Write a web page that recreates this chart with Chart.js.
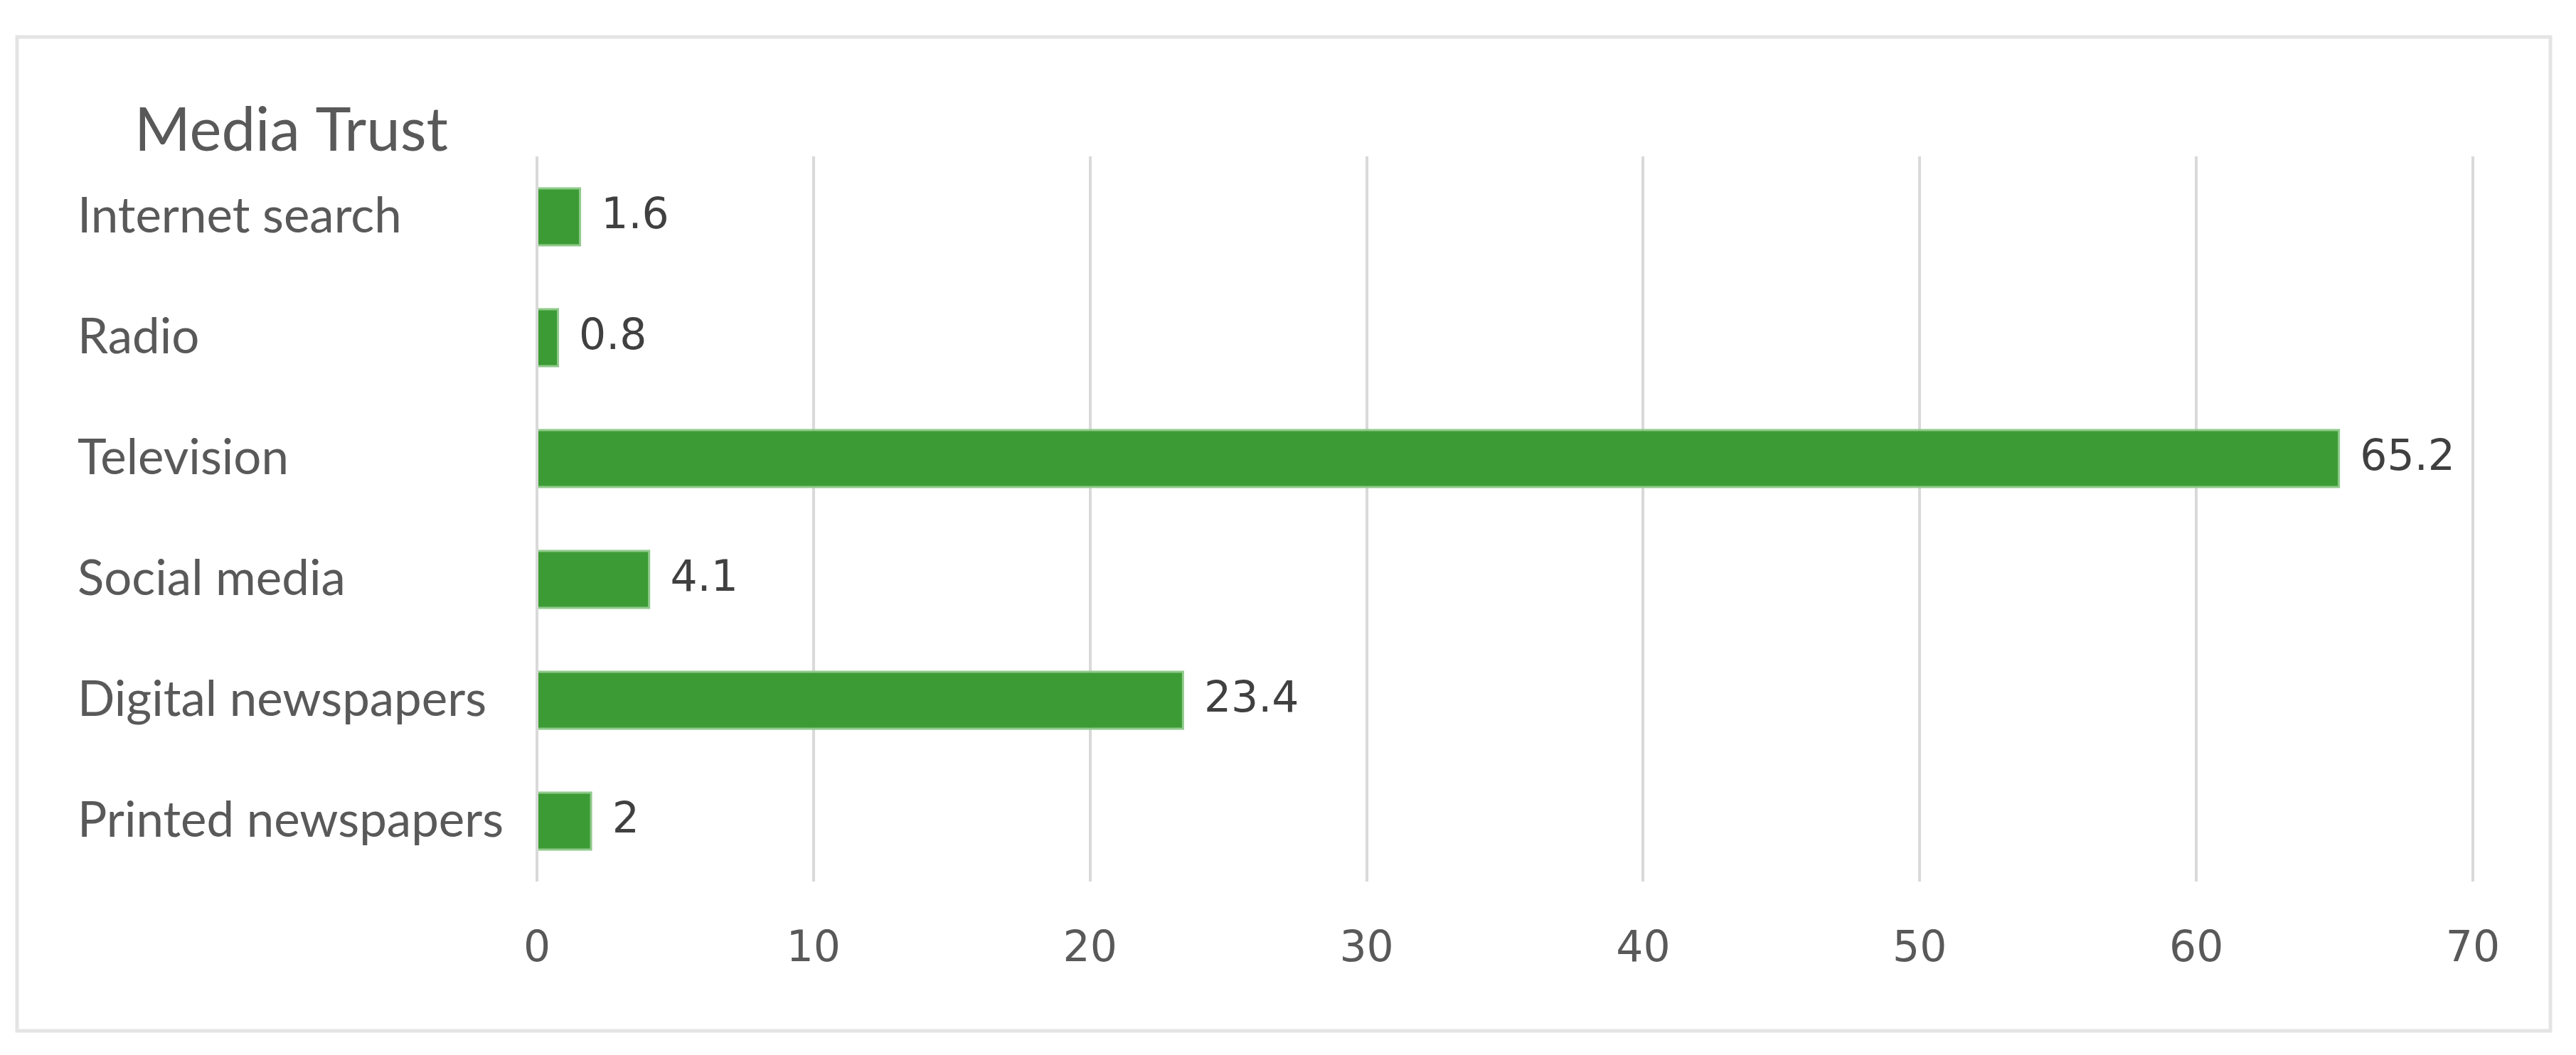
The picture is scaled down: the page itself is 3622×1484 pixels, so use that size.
<!DOCTYPE html>
<html>
<head>
<meta charset="utf-8">
<title>Media Trust</title>
<script src="https://cdn.jsdelivr.net/npm/chart.js@4/dist/chart.umd.min.js"></script>
<style>
    html, body { margin: 0; padding: 0; background: #ffffff; }
    #contenedor { width: 3622px; height: 1484px; }
</style>
</head>
<body>
<div id="contenedor"><canvas id="barras" width="3622" height="1484"></canvas></div>
<script>
/* datos del gráfico */
var categorias = ["Internet search", "Radio", "Television", "Social media", "Digital newspapers", "Printed newspapers"];
var valores = [1.6, 0.8, 65.2, 4.1, 23.4, 2];
var ticksX = [0, 10, 20, 30, 40, 50, 60, 70];
var titulo = "Media Trust";

var fuenteTexto = "Lato, 'Noto Sans', sans-serif";
var fuenteNumeros = "'DejaVu Sans', Verdana, sans-serif";

// tamaño de letra para que un texto ocupe un ancho dado
function tamanoPara(texto, ancho) {
    var ctx = document.createElement("canvas").getContext("2d");
    ctx.font = "100px " + fuenteTexto;
    return Math.round(100 * ancho / ctx.measureText(texto).width);
}

/* marco, fondo y título */
var pluginMarco = {
    id: "marco",
    beforeDraw: function (chart) {
        var ctx = chart.ctx;
        ctx.save();
        ctx.fillStyle = "#ffffff";
        ctx.fillRect(0, 0, chart.width, chart.height);
        ctx.strokeStyle = "#e4e4e4";
        ctx.lineWidth = 5;
        ctx.strokeRect(24, 52, 3562, 1398);
        ctx.fillStyle = "#595959";
        ctx.font = tamanoPara(titulo, 440) + "px " + fuenteTexto;
        ctx.textBaseline = "middle";
        ctx.textAlign = "left";
        ctx.fillText(titulo, 189, 185);
        ctx.restore();
    }
};

/* etiquetas de valor al final de cada barra */
var pluginEtiquetas = {
    id: "etiquetas",
    afterDatasetsDraw: function (chart) {
        var ctx = chart.ctx;
        var meta = chart.getDatasetMeta(0);
        ctx.save();
        ctx.fillStyle = "#404040";
        ctx.font = "60px " + fuenteNumeros;
        ctx.textBaseline = "middle";
        ctx.textAlign = "left";
        meta.data.forEach(function (barra, i) {
            ctx.fillText(String(valores[i]), barra.x + 28, barra.y);
        });
        ctx.restore();
    }
};

function cargaGraficoBarras() {
    var tamanoCategorias = tamanoPara("Printed newspapers", 603);

    var datos = {
        labels: categorias,
        datasets: [{
            label: titulo,
            data: valores,
            backgroundColor: "#3c9b35",
            borderColor: "#8fca8a",
            borderWidth: 3,
            borderSkipped: "start",
            categoryPercentage: 1,
            barPercentage: 0.49
        }]
    };

    var config = {
        type: "bar",
        data: datos,
        options: {
            indexAxis: "y",
            responsive: false,
            animation: false,
            layout: {
                padding: { left: 109, right: 145, top: 220, bottom: 104 }
            },
            plugins: {
                legend: { display: false },
                title: { display: false },
                tooltip: { enabled: false }
            },
            scales: {
                x: {
                    min: ticksX[0],
                    max: ticksX[ticksX.length - 1],
                    afterBuildTicks: function (eje) {
                        eje.ticks = ticksX.map(function (v) { return { value: v }; });
                    },
                    afterFit: function (eje) { eje.height = 140; },
                    border: { display: false },
                    grid: {
                        color: "#d9d9d9",
                        lineWidth: 4,
                        drawTicks: false
                    },
                    ticks: {
                        padding: 60,
                        color: "#595959",
                        font: { family: fuenteNumeros, size: 60 }
                    }
                },
                y: {
                    afterFit: function (eje) { eje.width = 646; },
                    border: { display: false },
                    grid: { display: false },
                    ticks: {
                        crossAlign: "far",
                        color: "#595959",
                        font: { family: fuenteTexto, size: tamanoCategorias }
                    }
                }
            }
        },
        plugins: [pluginMarco, pluginEtiquetas]
    };

    var grafico = document.getElementById("barras").getContext("2d");
    new Chart(grafico, config);
}

window.onload = function () {
    cargaGraficoBarras();
};
</script>
</body>
</html>
